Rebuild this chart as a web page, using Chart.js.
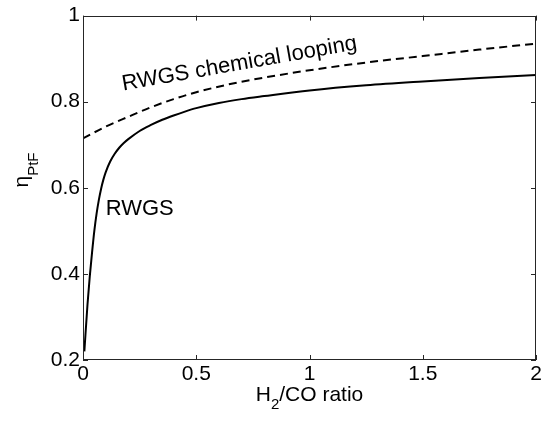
<!DOCTYPE html>
<html>
<head>
<meta charset="utf-8">
<script src="https://cdn.jsdelivr.net/npm/chart.js@4"></script>
<style>
  html, body { margin: 0; padding: 0; background: #fff; }
  #wrap { width: 545px; height: 422px; }
</style>
</head>
<body>
<div id="wrap"><canvas id="c" width="545" height="422"></canvas></div>
<script>
// ---- data ----
const rwgsX = [0.006, 0.02, 0.03, 0.04, 0.05, 0.06, 0.07, 0.08, 0.09, 0.10, 0.12, 0.14, 0.16, 0.18, 0.20, 0.25, 0.30, 0.35, 0.40, 0.45, 0.50, 0.60, 0.70, 0.80, 1.00, 1.25, 1.50, 1.75, 2.00];
const rwgsY = [0.22, 0.33, 0.395, 0.45, 0.50, 0.54, 0.572, 0.598, 0.619, 0.636, 0.661, 0.679, 0.693, 0.704, 0.713, 0.732, 0.746, 0.758, 0.768, 0.777, 0.785, 0.797, 0.806, 0.813, 0.826, 0.838, 0.847, 0.855, 0.862];
const loopX = [0, 0.1, 0.2, 0.3, 0.4, 0.5, 0.65, 0.8, 1.0, 1.25, 1.5, 1.75, 2.0];
const loopY = [0.715, 0.742, 0.765, 0.787, 0.806, 0.822, 0.841, 0.856, 0.873, 0.891, 0.906, 0.921, 0.935];
const seriesNames = ["RWGS", "RWGS chemical looping"];
const xTicks = [0, 0.5, 1, 1.5, 2];
const yTicks = [0.2, 0.4, 0.6, 0.8, 1];
const xTickLabels = ["0", "0.5", "1", "1.5", "2"];
const yTickLabels = ["0.2", "0.4", "0.6", "0.8", "1"];

const FONT = "'Liberation Sans', Arial, sans-serif";

const toPts = (xs, ys) => xs.map((x, i) => ({ x: x, y: ys[i] }));

const framePlugin = {
  id: 'frame',
  afterDatasetsDraw(chart) {
    const ctx = chart.ctx;
    const a = chart.chartArea;
    const xs = chart.scales.x, ys = chart.scales.y;
    ctx.save();
    ctx.strokeStyle = '#262626';
    ctx.lineWidth = 1;
    ctx.strokeRect(Math.round(a.left) + 0.5, Math.round(a.top) + 0.5,
                   Math.round(a.right - a.left) - 1, Math.round(a.bottom - a.top) - 1);
    const tl = 5;
    ctx.beginPath();
    xTicks.forEach(v => {
      const p = Math.round(xs.getPixelForValue(v)) + 0.5;
      ctx.moveTo(p, a.bottom); ctx.lineTo(p, a.bottom - tl);
      ctx.moveTo(p, a.top); ctx.lineTo(p, a.top + tl);
    });
    yTicks.forEach(v => {
      const p = Math.round(ys.getPixelForValue(v)) + 0.5;
      ctx.moveTo(a.left, p); ctx.lineTo(a.left + tl, p);
      ctx.moveTo(a.right, p); ctx.lineTo(a.right - tl, p);
    });
    ctx.stroke();
    ctx.restore();
  },
  afterDraw(chart) {
    const ctx = chart.ctx;
    const xs = chart.scales.x, ys = chart.scales.y;
    ctx.save();
    ctx.fillStyle = '#000';
    ctx.textBaseline = 'alphabetic';

    // series annotations
    ctx.font = '22px ' + FONT;
    ctx.textAlign = 'left';
    ctx.fillText(seriesNames[0], xs.getPixelForValue(0.10), ys.getPixelForValue(0.536));
    ctx.save();
    ctx.translate(xs.getPixelForValue(0.178), ys.getPixelForValue(0.826));
    ctx.rotate(-10 * Math.PI / 180);
    ctx.fillText(seriesNames[1], 0, 0);
    ctx.restore();

    // x axis title: H2/CO ratio
    const big = '21px ' + FONT, small = '15px ' + FONT;
    ctx.font = big; const wH = ctx.measureText('H').width;
    const wRest = ctx.measureText('/CO ratio').width;
    ctx.font = small; const w2 = ctx.measureText('2').width;
    const total = wH + w2 + wRest;
    const cx = (chart.chartArea.left + chart.chartArea.right) / 2;
    let x0 = cx - total / 2;
    const by = 401;
    ctx.font = big; ctx.fillText('H', x0, by);
    ctx.font = small; ctx.fillText('2', x0 + wH, by + 8);
    ctx.font = big; ctx.fillText('/CO ratio', x0 + wH + w2, by);

    // y axis title: eta_PtF
    ctx.save();
    const cy = 170;
    ctx.font = big; const wE = ctx.measureText('\u03B7').width;
    ctx.font = small; const wP = ctx.measureText('PtF').width;
    const tot2 = wE + wP;
    ctx.translate(28, cy);
    ctx.rotate(-Math.PI / 2);
    ctx.font = big; ctx.fillText('\u03B7', -tot2 / 2, 0);
    ctx.font = small; ctx.fillText('PtF', -tot2 / 2 + wE, 10);
    ctx.restore();

    ctx.restore();
  }
};

new Chart(document.getElementById('c'), {
  type: 'line',
  data: {
    datasets: [
      {
        label: seriesNames[0],
        data: toPts(rwgsX, rwgsY),
        borderColor: '#000',
        borderWidth: 2,
        pointRadius: 0,
        fill: false,
        cubicInterpolationMode: 'monotone'
      },
      {
        label: seriesNames[1],
        data: toPts(loopX, loopY),
        borderColor: '#000',
        borderWidth: 2,
        borderDash: [8, 5],
        pointRadius: 0,
        fill: false,
        cubicInterpolationMode: 'monotone'
      }
    ]
  },
  options: {
    responsive: false,
    animation: false,
    layout: { padding: { left: 0, top: 13, right: 9, bottom: 0 } },
    plugins: { legend: { display: false }, tooltip: { enabled: false } },
    scales: {
      x: {
        type: 'linear',
        min: 0, max: 2,
        afterFit(s) { s.height = 62; },
        afterBuildTicks(s) { s.ticks = xTicks.map(v => ({ value: v })); },
        grid: { display: false, drawTicks: false },
        border: { display: false },
        ticks: {
          padding: 2,
          color: '#000',
          font: { family: FONT, size: 21 },
          maxRotation: 0,
          callback: (v) => xTickLabels[xTicks.indexOf(+(+v).toFixed(1))]
        }
      },
      y: {
        type: 'linear',
        min: 0.2, max: 1,
        afterFit(s) { s.width = 83; },
        afterBuildTicks(s) { s.ticks = yTicks.map(v => ({ value: v })); },
        grid: { display: false, drawTicks: false },
        border: { display: false },
        ticks: {
          padding: 3,
          color: '#000',
          font: { family: FONT, size: 21 },
          callback: (v) => yTickLabels[yTicks.indexOf(+(+v).toFixed(1))]
        }
      }
    }
  },
  plugins: [framePlugin]
});
</script>
</body>
</html>
